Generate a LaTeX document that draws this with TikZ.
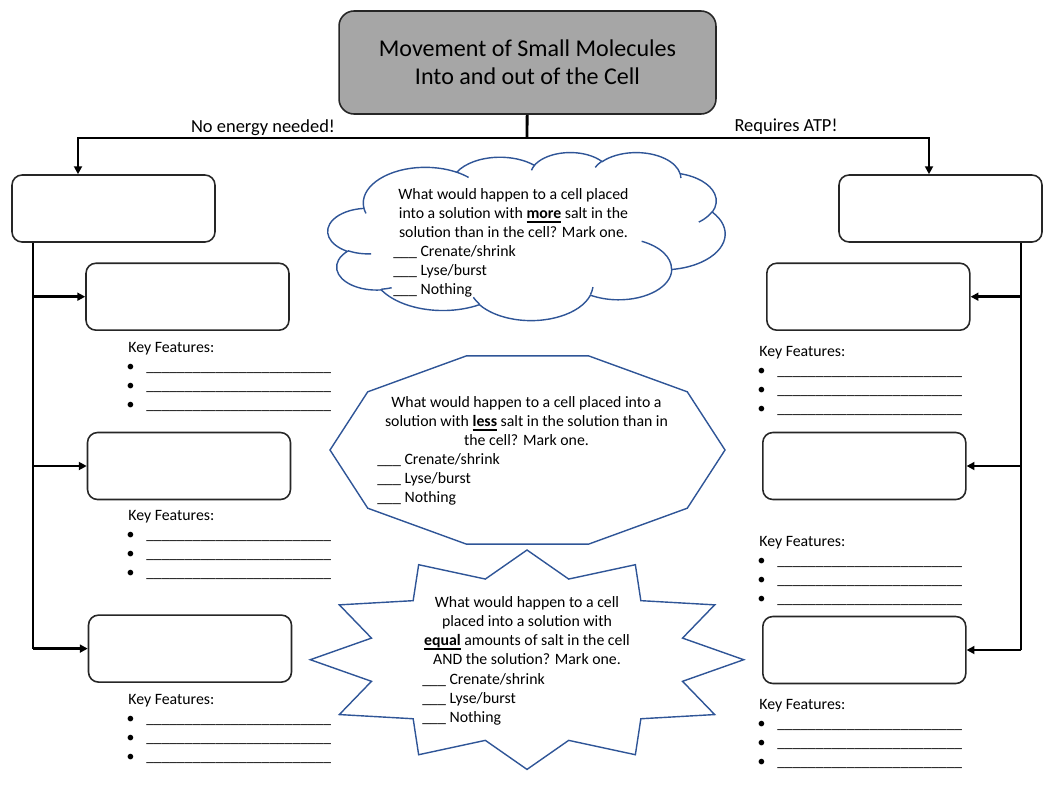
\documentclass[tikz,border=0pt]{standalone}
\usepackage{fontspec}
\setmainfont{Carlito}
\usepackage{xcolor}
\usepackage{tikz}
\usetikzlibrary{arrows.meta,positioning}
\definecolor{shapeblue}{HTML}{2F5597}
\definecolor{titlegray}{HTML}{A6A6A6}
\newcommand{\keyblank}{{\fontsize{8.8}{10.8}\selectfont\_\_\_\_\_\_\_\_\_\_\_\_\_\_\_\_\_\_\_\_\_\_\_\_}}
\newcommand{\choicelist}{\_\_\_ Crenate/shrink\\\_\_\_ Lyse/burst\\\_\_\_ Nothing}
\newcommand{\keyword}[1]{\setbox0\hbox{\textbf{#1}}\rlap{\rule[-2.6pt]{\wd0}{0.9pt}}\box0\relax}

\begin{document}
\begin{tikzpicture}[x=0.02cm,y=-0.02cm,
    every node/.style={font=\fontsize{9}{10.8}\selectfont,inner sep=0pt},
    box/.style={draw=black!85,line width=0.9pt,rounded corners=0.2cm,minimum width=4.06cm,minimum height=1.34cm},
    link/.style={line width=1.6pt},
    arr/.style={link,-{Triangle[length=4.5pt,width=4.5pt]}},
    qshape/.style={draw=shapeblue,line width=0.8pt},
    branch/.style={font=\fontsize{10.5}{12}\selectfont}]
  \useasboundingbox (0,0) rectangle (1050,808);

  % title and the two branches
  \node[box,fill=titlegray,minimum width=7.54cm,minimum height=2.06cm,rounded corners=0.3cm,
        font=\fontsize{13.7}{15.9}\selectfont,align=center] (title) at (527.5,62.5)
        {Movement of Small Molecules\\Into and out of the Cell};
  \coordinate (hub) at (527,138);
  \coordinate (lturn) at (78,138);
  \coordinate (rturn) at (929,138);
  \node[box] (passive) at (113.5,208.5) {};
  \node[box] (active) at (940.5,208.5) {};
  \draw[link] (title) -- (hub);
  \draw[arr] (hub) -- (lturn) -- (lturn |- passive.north);
  \draw[arr] (hub) -- (rturn) -- (rturn |- active.north);
  \node[branch] (noenergy) at (263,128) {No energy needed!};
  \node[branch] (atp) at (786,127) {Requires ATP!};

  % side boxes
  \foreach \n/\x/\y in {l1/187.5/296.7, l2/189/466, l3/190/648.6, r1/868.3/296.7, r2/864.3/466, r3/864.3/650} {
    \node[box] (\n) at (\x,\y) {};
  }
  \coordinate (lspine) at (33,0);
  \coordinate (rspine) at (1021,0);
  \draw[link] (lspine |- passive.south) -- (lspine |- l3.west);
  \draw[link] (rspine |- active.south) -- (rspine |- r3.east);
  \foreach \n in {l1,l2,l3} \draw[arr] (lspine |- \n.west) -- (\n.west);
  \foreach \n in {r1,r2,r3} \draw[arr] (rspine |- \n.east) -- (\n.east);

  % key features
  \foreach \n/\x/\y in {kl1/128/352, kl2/128/520, kl3/128/704, kr1/759/356, kr2/759/546, kr3/759/709} {
    \node[anchor=base west] (\n) at (\x,\y) {Key Features:};
    \foreach \i in {1,2,3} {
      \node[anchor=base] (\n-b\i) at (\x+2.5,\y+19*\i) {\textbullet};
      \node[anchor=base west] (\n-l\i) at (\x+18,\y+19*\i) {\keyblank};
    }
  }

  % the three questions: cloud, decagon, star
  \begin{scope}[shift={(328,152)},xscale=397/432,yscale=168/432]
    \draw[qshape] (39,143.7)
      \foreach \w/\h/\s/\d in {67.53/91.90/172.25/128.11, 53.33/72.67/-152.02/106.59,
          43.65/59.45/-153.49/116.16, 48.57/65.95/-139.71/129.50, 53.33/72.73/-74.77/97.98,
          67.75/92.20/-37.53/119.39, 57.85/78.67/0.46/121.53, 67.52/92.15/16.85/129.42,
          77.20/105.43/58.98/91.22, 43.60/59.18/83.31/139.78, 43.45/59.45/120.36/143.75}
      { arc[x radius=\w, y radius=\h, start angle=\s, delta angle=\d] } -- cycle;
    \foreach \px/\py/\w/\h/\s/\d in {46.93/261.77/43.45/59.45/85.55/34.81, 69.28/348.99/43.60/59.18/68.23/15.08,
        164.78/390.90/67.52/92.15/146.27/12.20, 288.27/347.51/67.52/92.15/4.74/12.11,
        341.29/229.54/57.85/78.67/-64.03/64.49, 417.98/153.54/53.33/72.73/23.21/26.43,
        383.24/54.26/48.57/65.95/-10.21/11.03, 290.78/39.52/48.57/65.95/-156.28/16.57,
        221.41/47.20/43.65/59.45/-167.73/14.24, 140.00/51.92/67.53/91.90/-59.64/13.93,
        41.27/157.89/67.53/91.90/163.19/9.06}
      \draw[qshape] (\px,\py) arc[x radius=\w, y radius=\h, start angle=\s, delta angle=\d];
  \end{scope}
  \begin{scope}[shift={(527.5,450)}]
    \draw[qshape] (0:197.5 and 99) \foreach \a in {36,72,...,324} {-- (\a:197.5 and 99)} -- cycle;
  \end{scope}
  \begin{scope}[shift={(527,659.7)}]
    \draw[qshape] (0:216.7 and 109.7) \foreach \a in {0,30,...,330} {-- (\a+15:161 and 83.5) -- (\a+30:216.7 and 109.7)} -- cycle;
  \end{scope}

  % (base of a multi-line node = its last line)
  \node[anchor=base,align=center] (q1) at (513.5,237)
    {What would happen to a cell placed\\into a solution with \keyword{more} salt in the\\solution than in the cell? Mark one.};
  \node[anchor=base west,align=left] (c1) at (393,294) {\choicelist};
  \node[anchor=base,align=center] (q2) at (526.5,445)
    {What would happen to a cell placed into a\\solution with \keyword{less} salt in the solution than in\\the cell? Mark one.};
  \node[anchor=base west,align=left] (c2) at (377,502) {\choicelist};
  \node[anchor=base,align=center] (q3) at (527,664)
    {What would happen to a cell\\placed into a solution with\\\keyword{equal} amounts of salt in the cell\\AND the solution? Mark one.};
  \node[anchor=base west,align=left] (c3) at (422,722) {\choicelist};
\end{tikzpicture}
\end{document}
